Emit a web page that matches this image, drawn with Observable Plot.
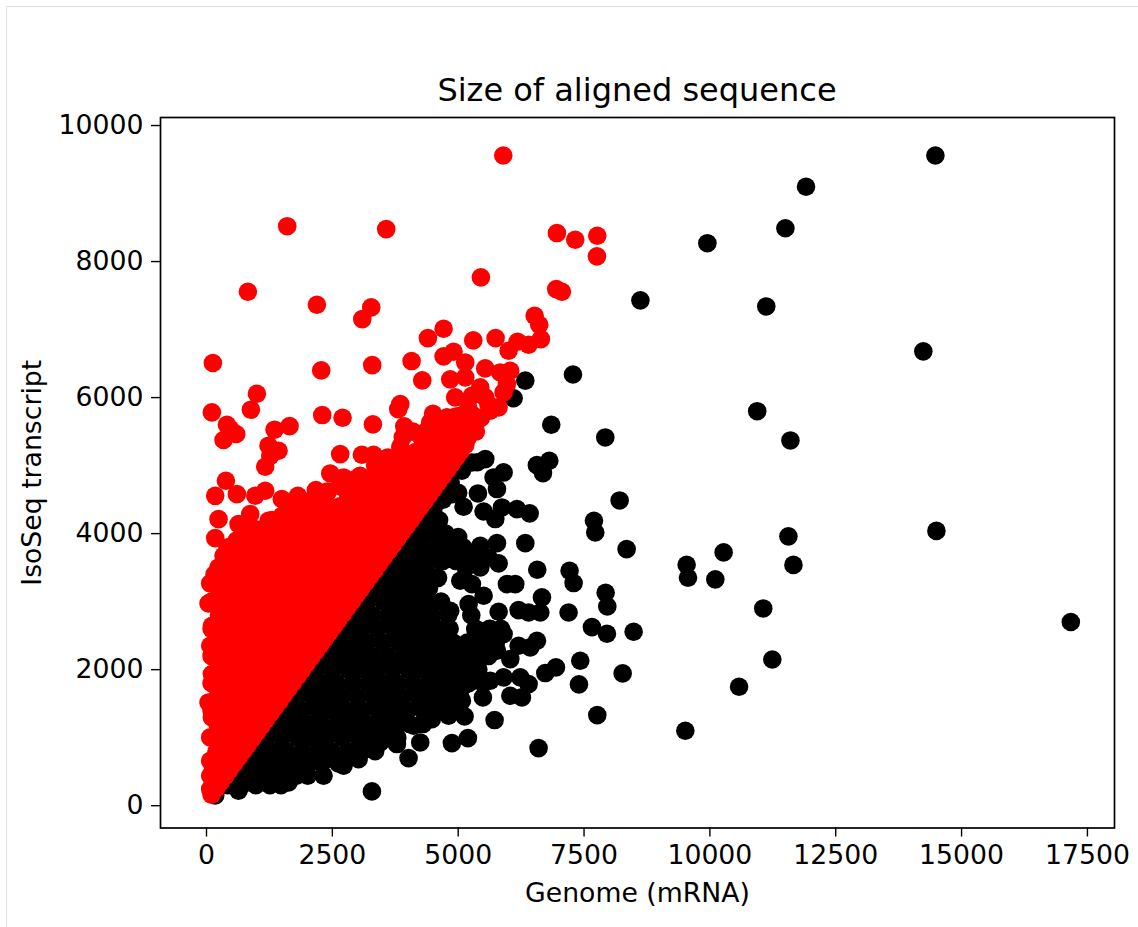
<!DOCTYPE html>
<html><head><meta charset="utf-8">
<script src="https://cdn.jsdelivr.net/npm/d3@7"></script>
<script src="https://cdn.jsdelivr.net/npm/@observablehq/plot@0.6"></script>
<style>
html,body{margin:0;padding:0;background:#fff;overflow:hidden}
#page{position:absolute;left:6px;top:6px;width:1132px;height:921px;border-left:1.5px solid #e2e2e2;border-top:1.5px solid #e2e2e2;box-sizing:border-box;pointer-events:none}
#title{position:relative;height:108px;width:954px;margin-left:160px;box-sizing:border-box;padding-top:72px;text-align:center;font:32px/36px "DejaVu Sans";color:#000}
svg{display:block}
</style></head><body>
<div id="page"></div>
<div id="title">Size of aligned sequence</div>
<div id="chart"></div>
<script>
const titleText = "Size of aligned sequence";
const xLabel = "Genome (mRNA)";
const yLabel = "IsoSeq transcript";
const xTicks = [0,2500,5000,7500,10000,12500,15000,17500];
const yTicks = [0,2000,4000,6000,8000,10000];

// isolated black points [genome, transcript]
const blackScatter = [
[14480,9560],[11910,9100],[11500,8490],[9950,8270],[11120,7340],[8620,7430],[14240,6680],[10940,5800],
[11600,5370],[7280,6340],[6333,6250],[6101,5990],[7922,5414],[6849,5600],[8207,4488],[6564,5007],[6810,5071],[6684,4890],
[7723,4017],[7697,4189],[8346,3772],[10273,3724],[9538,3542],[9565,3351],[10108,3327],[14500,4040],[11560,3960],[11660,3540],
[7213,3454],[7293,3273],[6571,3469],[6333,3860],[7929,3131],[7962,2930],[7193,2841],[7657,2626],[7955,2528],[8485,2557],
[11060,2900],[17170,2700],[11240,2150],[7425,2131],[8267,1945],[7399,1783],[10580,1749],[7763,1332],[9512,1102],[6597,847],
[3286,210],[173,150],[636,220],[934,340],[1266,318],[1630,342],[1994,465],[2325,440],[2723,587],[3021,685],
[3451,930],[3782,906],[4014,700],[4246,930],[4875,920],[5193,994],[5723,1259],[4114,1175],[4478,1273],[4809,1323],[5127,1313],
[5491,1592],[4710,1494],[5074,1543],[6266,1592],[6035,1616],[6399,1788],[6233,1886],[5902,1886],[5637,1837],[5306,1837],[5107,1763],
[6730,1950],[6942,2033],[6565,2425],[6432,2327],[6200,2352],[5902,2523],[5637,2597],[5339,2597],[6035,2155],[5770,2278],[5438,2327],[5174,2327],
[5174,2082],[5803,2851],[6200,2876],[6399,2841],[6631,2841],[6664,3062],[5505,3087],[5207,2964],[4842,2866],[5968,3258],[6134,3258],[5803,3562],
[5770,3860],[5439,3822],[5107,3748],[5439,3503],[5041,3307],[5273,3258],[6419,4297],[6167,4360],[5869,4385],[5737,4214],[5505,4326],[5107,4395],
[5392,4591],[4876,4581],[5770,4655],[5703,4826],[5902,4900],[5538,5096],[5273,5046],[5074,4924],[5600,3650],[5150,3500],[5350,3690],
[4700,4500],[4600,4700],[4850,4750],[5000,4600],[5380,5050],[5140,5050],[4950,4950],[4800,3950],[5000,3950],[4900,3800],[4700,3600],[4600,3350]
];
// black mass below the diagonal, by transcript level
const blackCoreLevels = [300,440,620,800,1000,1200,1400,1600,1800,2000,2200,2400,2600,2800,3000,3200,3400,3600,3800,4000,4200,4400];
const blackCoreGenome = [
[420,700,980,1260,1480],
[360,620,910,1210,1500,1790,2010],
[500,810,1090,1400,1700,2010,2290,2620],
[700,1010,1300,1590,1900,2210,2490,2800,3090,3350],
[900,1190,1500,1810,2100,2390,2700,3010,3300,3600,3790],
[1100,1400,1710,2000,2290,2600,2910,3200,3490,3800,4040,4300],
[1300,1590,1900,2210,2500,2790,3100,3410,3700,3990,4300,4420,4720,5000],
[1500,1800,2110,2400,2690,3000,3310,3600,3890,4200,4470,4760,5040],
[1700,2010,2300,2590,2900,3210,3500,3790,4100,4410,4660,4930,5210,5500],
[1900,2190,2500,2810,3100,3390,3700,4010,4300,4590,4860,5150,5400],
[2100,2400,2710,3000,3290,3600,3910,4200,4490,4780,5050,5300,5600],
[2300,2610,2900,3190,3500,3810,4100,4390,4680,4900,5180,5450,5750],
[2500,2800,3090,3400,3710,4000,4290,4580,4830,5350,5620,5850],
[2700,2990,3300,3610,3900,4190,4480,4800,5260],
[2900,3200,3510,3800,4090,4380,4660],
[3100,3410,3700,3990,4280,4420],
[3300,3600,3890,4180,4400],
[3500,3790,4080,4370,4640,4950,5210],
[3700,3980,4270,4560,4830,5100],
[3900,4170,4460,4750],
[4100,4350,4620],
[4300,4520]
];

// red points standing clear of the solid mass
const redScatter = [
[5895,9560],[1603,8520],[3570,8477],[6961,8419],[7325,8321],[7763,8380],[7756,8076],[5451,7767],[6948,7595],[7060,7556],
[822,7556],[2193,7365],[3272,7326],[3094,7154],[6518,7203],[6610,7071],[6643,6860],[6398,6777],[6180,6821],[6001,6689],
[5743,6875],[4710,7012],[4398,6875],[5299,6841],[4908,6674],[4710,6606],[126,6508],[2279,6400],[3292,6478],[4074,6537],
[5140,6517],[4286,6253],[4842,6268],[5140,6297],[5537,6429],[5835,6370],[6034,6395],[5968,6199],[5438,6150],[5901,6076],
[5802,5856],[5637,5807],[4941,6003],[5272,6027],[5537,6003],[1001,6057],[107,5782],[881,5822],[3849,5905],[3809,5831],
[2299,5743],[2703,5704],[3305,5606],[3928,5577],[405,5601],[471,5538],[338,5376],[590,5464],[1352,5528],[1650,5581],
[1232,5293],[1431,5219],[1166,4983],[1266,5144],[4445,5635],[4246,5440],[4776,5709],[5041,5734],[5306,5734],[5173,5440],
[4378,5513],[4710,5513],[5600,5900],[5450,5700],[5200,5850],[2656,5169],[3087,5159],[3319,5159],[3849,5277],
[2458,4885],[2723,4826],[385,4777],[173,4556],[603,4581],[968,4557],[1166,4630],[1497,4507],[1815,4556],[2173,4640],
[239,4213],[173,3934],[636,4140],[901,4042],[1232,4189],[868,4287],[1266,3944],[338,3674],[239,3503],[73,3268],
[40,2974],[107,2645],[73,2351],[107,1935],[40,1518],[107,1298],[73,1004],[73,661],[73,440],[73,245],
[420,3800],[700,3950],[1000,4060],[1500,4260],[1750,4380],[2050,4480],[2400,4620],[2650,4700],[3050,4850],[3350,5000],
[3600,5120],[3900,5420],[4100,5500],[4500,5760],[4950,5720],[5350,5500],[3650,4950],[3000,4700],[1300,4000],[2000,4300],
[2350,4480],[600,3900],[850,3960]
];
// the smooth lower edge of the red mass
const redEdge = [
[100,162],[190,254],[280,346],[370,437],[460,529],[550,621],[640,713],[730,805],[820,896],[910,988],
[1000,1080],[1090,1172],[1180,1264],[1270,1355],[1360,1447],[1450,1539],[1540,1631],[1630,1723],[1720,1814],[1810,1906],
[1900,1998],[1990,2090],[2080,2182],[2170,2273],[2260,2365],[2350,2457],[2440,2549],[2530,2641],[2620,2732],[2710,2824],
[2800,2916],[2890,3008],[2980,3100],[3070,3191],[3160,3283],[3250,3375],[3340,3467],[3430,3559],[3520,3650],[3610,3742],
[3700,3834],[3790,3926],[3880,4018],[3970,4109],[4060,4201],[4150,4293],[4240,4385],[4330,4477],[4420,4568],[4510,4660],
[4600,4752],[4690,4844],[4780,4936],[4870,5027],[4960,5119],[5050,5211],[5140,5303]
];
// solid red mass, by transcript level
const redCoreLevels = [400,600,800,1000,1200,1400,1600,1800,2000,2200,2400,2600,2800,3000,3200,3400,3600,3800,4000,4200,4400,4600,4800,5000,5200,5400,5600];
const redCoreGenome = [
[130,300],
[120,400],
[200,500],
[120,400,700],
[220,520,820],
[100,400,700,1000,1200],
[220,520,820,1120,1400],
[100,400,700,1000,1300,1600],
[250,550,850,1150,1450,1750],
[100,400,700,1000,1300,1600,1900,2060],
[250,550,850,1150,1450,1750,2050,2250],
[100,400,700,1000,1300,1600,1900,2200,2450],
[250,550,850,1150,1450,1750,2050,2350,2620],
[100,400,700,1000,1300,1600,1900,2200,2500,2800],
[250,550,850,1150,1450,1750,2050,2350,2650,2950],
[160,400,700,1000,1300,1600,1900,2200,2500,2800,3100,3250],
[350,550,850,1150,1450,1750,2050,2350,2650,2950,3250,3430],
[500,700,1000,1300,1600,1900,2200,2500,2800,3100,3400,3620],
[850,1150,1450,1750,2050,2350,2650,2950,3250,3550,3800],
[1300,1600,1900,2200,2500,2800,3100,3400,3700,4000],
[1750,2050,2350,2650,2950,3250,3550,3850,4150,4240],
[2400,2800,3100,3400,3700,4000,4300,4400],
[2950,3250,3550,3850,4150,4450,4600],
[3400,3700,4000,4300,4600,4790],
[3850,4150,4450,4750,4990],
[4300,4600,4900,5180],
[4450,4750,5050,5120]
];

const pairs = (levels, rows) => rows.flatMap((xs,i)=>xs.map(x=>[x,levels[i]]));
const black = blackScatter.concat(pairs(blackCoreLevels, blackCoreGenome));
const red = redScatter.concat(redEdge, pairs(redCoreLevels, redCoreGenome));

document.getElementById("title").textContent = titleText;
const plot = Plot.plot({
  width:1138, height:819,
  marginLeft:160, marginRight:24, marginTop:9, marginBottom:99.5,
  style:{fontFamily:"DejaVu Sans",fontSize:"26.7px",background:"#fff",color:"#000",overflow:"visible"},
  x:{domain:[-914,18038]},
  y:{domain:[-328,10118]},
  marks:[
    Plot.dot(black,{x:d=>d[0],y:d=>d[1],r:9.3,fill:"#000",stroke:"none"}),
    Plot.dot(red,{x:d=>d[0],y:d=>d[1],r:9.3,fill:"#ff0000",stroke:"none"}),
    Plot.axisX({ticks:xTicks,tickFormat:d=>String(d),tickSize:9,tickPadding:8,strokeWidth:1.4,stroke:"#000",fill:"#000",
      label:xLabel,labelAnchor:"center",labelArrow:"none",labelOffset:74,fontSize:26.7}),
    Plot.axisY({ticks:yTicks,tickFormat:d=>String(d),tickSize:9,tickPadding:8,strokeWidth:1.4,stroke:"#000",fill:"#000",
      label:yLabel,labelAnchor:"center",labelArrow:"none",labelOffset:138,fontSize:26.7}),
    Plot.frame({stroke:"#000",strokeWidth:1.7})
  ]
});
document.getElementById("chart").appendChild(plot);
</script>
</body></html>
